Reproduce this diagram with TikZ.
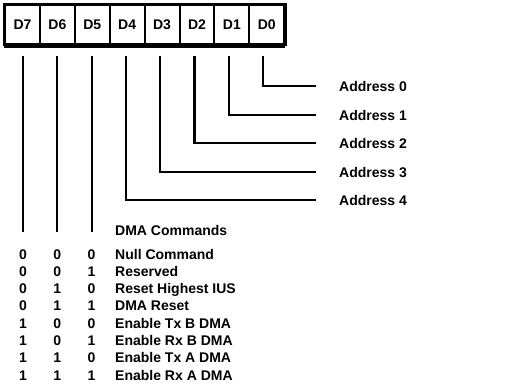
\documentclass[tikz,border=0pt]{standalone}
\usepackage{fontspec}
\setmainfont{Liberation Sans}
\begin{document}
\begin{tikzpicture}[x=1pt,y=-1pt,
  lbl/.style={font=\fontsize{14}{16}\selectfont\bfseries, inner sep=0pt, text height=10pt, text depth=0pt},
  cellbox/.style={draw, line width=2pt, minimum width=34.9pt, minimum height=39pt, inner sep=0pt, lbl},
  wire/.style={line width=2.2pt}]
\useasboundingbox (0,0) rectangle (512,384);
% register bits
\foreach \b in {0,...,7}
  \node[cellbox] (d\b) at ({22.45+34.9*(7-\b)}, 24.5) {D\b};
\draw [line width=2.6pt] (d7.north west) rectangle (d0.south east);
\draw [line width=4.5pt] ([yshift=-1pt]d7.south west) -- ([yshift=-1pt]d0.south east);
% bit lines
\foreach \b in {0,...,7}
  \coordinate (t\b) at ({23+34.3*(7-\b)}, 56);
\foreach \b/\y in {0/86, 1/115, 2/143, 3/172, 4/200} {
  \node [lbl, anchor=west] (a\b) at (339, \y) {Address \b};
  \draw [wire] (t\b) |- ([xshift=-23pt]a\b.west);
}
\foreach \b in {5,6,7} {
  \coordinate (e\b) at (t\b |- 0,232);
  \draw [wire] (t\b) -- (e\b);
}
\node [lbl, anchor=west] (cmdhead) at (115, 230) {DMA Commands};
% command table
\foreach \k/\p/\q/\r/\txt in {1/0/0/0/Null Command, 2/0/0/1/Reserved,
    3/0/1/0/Reset Highest IUS, 4/0/1/1/DMA Reset, 5/1/0/0/Enable Tx B DMA,
    6/1/0/1/Enable Rx B DMA, 7/1/1/0/Enable Tx A DMA, 8/1/1/1/Enable Rx A DMA} {
  \node [lbl] (p\k) at (t7 |- 0,{236.7+17.3*\k}) {\p};
  \node [lbl] (q\k) at (t6 |- 0,{236.7+17.3*\k}) {\q};
  \node [lbl] (r\k) at (t5 |- 0,{236.7+17.3*\k}) {\r};
  \node [lbl, anchor=west] (c\k) at (115, {236.7+17.3*\k}) {\txt};
}
\end{tikzpicture}
\end{document}
